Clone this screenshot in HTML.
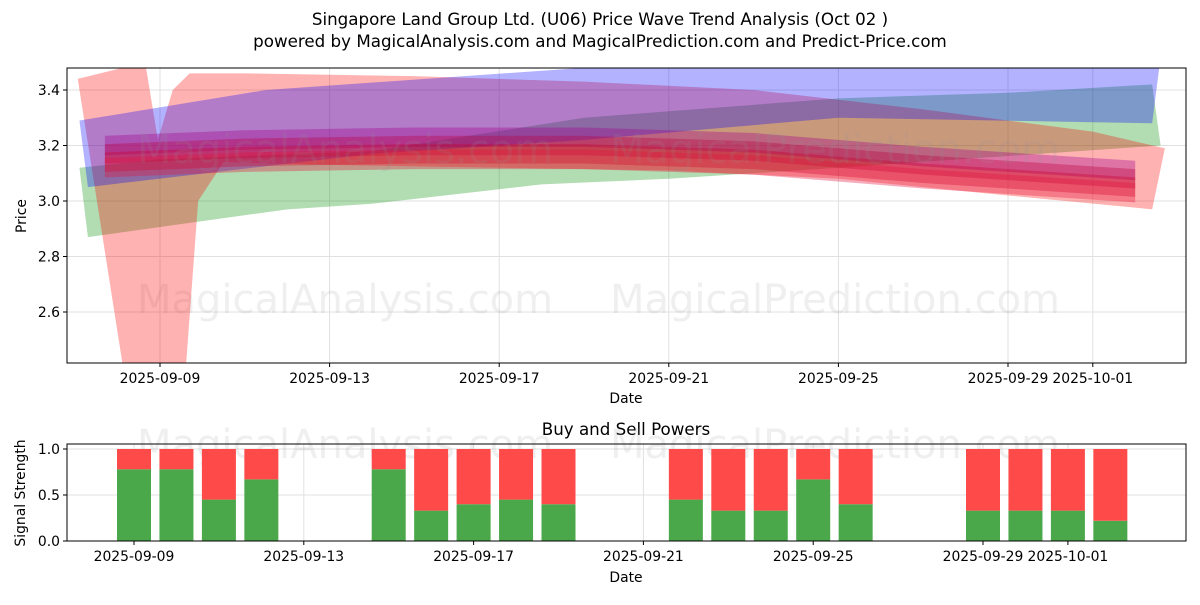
<!DOCTYPE html>
<html><head><meta charset="utf-8"><style>
body{margin:0;background:#fff}
svg text{font-family:"DejaVu Sans","Liberation Sans",sans-serif}
</style></head><body>
<svg id="c" width="1200" height="600" xmlns="http://www.w3.org/2000/svg">
<defs>
<clipPath id="topclip"><rect x="67" y="68" width="1119" height="295"/></clipPath>
</defs>
<rect width="1200" height="600" fill="#fff"/>
<text x="600" y="25" font-size="16.7" text-anchor="middle">Singapore Land Group Ltd. (U06) Price Wave Trend Analysis (Oct 02 )</text>
<text x="600" y="47" font-size="16.7" text-anchor="middle">powered by MagicalAnalysis.com and MagicalPrediction.com and Predict-Price.com</text>
<g id="topPanel"></g>
<g id="bottomPanel"></g>
</svg>
<script>
const tickDates=["2025-09-09","2025-09-13","2025-09-17","2025-09-21","2025-09-25","2025-09-29","2025-10-01"];
const tickDays=[0,4,8,12,16,20,22];
const priceTicks=[2.6,2.8,3.0,3.2,3.4];
const redBand=[[-1.94,3.44],[-0.35,3.50],[-0.05,3.22],[0.3,3.40],[0.7,3.46],[2,3.46],[6,3.45],[10,3.43],[14,3.40],[18,3.33],[22,3.25],[23.7,3.19],[23.4,2.97],[20,3.02],[16,3.08],[12,3.11],[8,3.12],[4,3.13],[1.5,3.14],[0.9,3.0],[0.6,2.38],[-0.85,2.38]];
const blueBand=[[-1.9,3.29],[2.5,3.40],[10,3.48],[14,3.52],[23.6,3.52],[23.4,3.28],[16,3.30],[10,3.22],[5,3.17],[-1.7,3.05]];
const greenBand=[[-1.9,3.12],[0,3.15],[5,3.18],[10,3.30],[16,3.37],[20,3.39],[23.4,3.42],[23.6,3.2],[16,3.12],[12,3.08],[9,3.06],[5,2.99],[3,2.97],[-1.7,2.87]];
const strandDays=[-1.3,2,6,10,14,18,22,23];
const strandMid=[3.17,3.19,3.2,3.2,3.18,3.13,3.09,3.08];
const strandOffsets=[0.03,0.0,-0.03,-0.05];
const barDates=[0,1,2,3,6,7,8,9,10,13,14,15,16,17,20,21,22,23];
const buyPower=[0.78,0.78,0.45,0.67,0.78,0.33,0.4,0.45,0.4,0.45,0.33,0.33,0.67,0.4,0.33,0.33,0.33,0.22];
const sigTicks=[0.0,0.5,1.0];

const NS="http://www.w3.org/2000/svg";
function mk(tag,attrs,parent){const e=document.createElementNS(NS,tag);for(const k in attrs)e.setAttribute(k,attrs[k]);parent.appendChild(e);return e;}
const topG=document.getElementById('topPanel'),botG=document.getElementById('bottomPanel');
const X=d=>160+42.4*d, Y=p=>90+(3.4-p)*277.5;
const XB=d=>134+42.45*d, YB=v=>541-v*92;
const FS=13.9;

tickDays.forEach((d,i)=>{
 const l=mk('line',{x1:X(d),x2:X(d),y1:68,y2:363,stroke:'#e0e0e0','stroke-width':1},topG);
 
 
 mk('line',{x1:X(d),x2:X(d),y1:363,y2:367,stroke:'#000'},topG);
 const t=mk('text',{x:X(d),y:383,'font-size':FS,'text-anchor':'middle'},topG);t.textContent=tickDates[i];
 
 
});
priceTicks.forEach(p=>{
 const l=mk('line',{x1:67,x2:1186,y1:Y(p),y2:Y(p),stroke:'#e0e0e0'},topG);
 
 
 mk('line',{x1:63,x2:67,y1:Y(p),y2:Y(p),stroke:'#000'},topG);
 const t=mk('text',{x:60,y:Y(p)+5,'font-size':FS,'text-anchor':'end'},topG);t.textContent=p.toFixed(1);
 
 
});
const wm1=mk('text',{x:345,y:313,'font-size':40,'text-anchor':'middle',fill:'rgba(150,150,150,0.15)'},topG);wm1.textContent='MagicalAnalysis.com';


const wm2=mk('text',{x:835,y:313,'font-size':40,'text-anchor':'middle',fill:'rgba(150,150,150,0.15)'},topG);wm2.textContent='MagicalPrediction.com';


const g=mk('g',{'clip-path':'url(#topclip)'},topG);
function band(pts,fill,name){const p=mk('polygon',{points:pts.map(q=>X(q[0])+','+Y(q[1])).join(' '),fill:fill},g);
 
 }
band(greenBand,'rgba(0,140,0,0.3)','green-wave-band');
band(redBand,'rgba(255,0,0,0.3)','red-wave-band');
band(blueBand,'rgba(0,0,255,0.3)','blue-wave-band');
const strandColors=['rgba(160,0,140,0.35)','rgba(190,0,60,0.35)','rgba(200,0,40,0.35)','rgba(230,20,60,0.35)'];
strandOffsets.forEach((o,k)=>{
 const up=strandDays.map((d,i)=>[d,strandMid[i]+o+0.035]);
 const lo=strandDays.map((d,i)=>[d,strandMid[i]+o-0.035]).reverse();
 band(up.concat(lo),strandColors[k],'price-strand');
});
const wm3=mk('text',{x:345,y:163,'font-size':40,'text-anchor':'middle',fill:'rgba(150,150,150,0.15)'},topG);wm3.textContent='MagicalAnalysis.com';


const wm4=mk('text',{x:835,y:163,'font-size':40,'text-anchor':'middle',fill:'rgba(150,150,150,0.15)'},topG);wm4.textContent='MagicalPrediction.com';


const fr=mk('rect',{x:67,y:68,width:1119,height:295,fill:'none',stroke:'#000'},topG);


const xt=mk('text',{x:626,y:403,'font-size':FS,'text-anchor':'middle'},topG);xt.textContent='Date';


const yt=mk('text',{x:26,y:216,'font-size':FS,'text-anchor':'middle',transform:'rotate(-90 26 216)'},topG);yt.textContent='Price';



const bt=mk('text',{x:626,y:435,'font-size':16.7,'text-anchor':'middle'},botG);bt.textContent='Buy and Sell Powers';


tickDays.forEach((d,i)=>{
 const l=mk('line',{x1:XB(d),x2:XB(d),y1:444,y2:541,stroke:'#e0e0e0'},botG);
 
 
 mk('line',{x1:XB(d),x2:XB(d),y1:541,y2:545,stroke:'#000'},botG);
 const t=mk('text',{x:XB(d),y:561,'font-size':FS,'text-anchor':'middle'},botG);t.textContent=tickDates[i];
 
 
});
sigTicks.forEach(v=>{
 const l=mk('line',{x1:67,x2:1186,y1:YB(v),y2:YB(v),stroke:'#e0e0e0'},botG);
 
 
 mk('line',{x1:63,x2:67,y1:YB(v),y2:YB(v),stroke:'#000'},botG);
 const t=mk('text',{x:60,y:YB(v)+5,'font-size':FS,'text-anchor':'end'},botG);t.textContent=v.toFixed(1);
 
 
});
const wm5=mk('text',{x:345,y:458,'font-size':40,'text-anchor':'middle',fill:'rgba(150,150,150,0.15)'},botG);wm5.textContent='MagicalAnalysis.com';


const wm6=mk('text',{x:835,y:458,'font-size':40,'text-anchor':'middle',fill:'rgba(150,150,150,0.15)'},botG);wm6.textContent='MagicalPrediction.com';


barDates.forEach((d,i)=>{
 const b=buyPower[i],w=34,x=XB(d)-w/2;
 const r1=mk('rect',{x:x,y:YB(b),width:w,height:YB(0)-YB(b),fill:'#4aa84a'},botG);
 
 
 const r2=mk('rect',{x:x,y:YB(1),width:w,height:YB(b)-YB(1),fill:'#ff4a4a'},botG);
 
 
});
const fr2=mk('rect',{x:67,y:444,width:1119,height:97,fill:'none',stroke:'#000'},botG);


const xt2=mk('text',{x:626,y:582,'font-size':FS,'text-anchor':'middle'},botG);xt2.textContent='Date';


const yt2=mk('text',{x:25,y:493,'font-size':FS,'text-anchor':'middle',transform:'rotate(-90 25 493)'},botG);yt2.textContent='Signal Strength';


</script>
</body></html>
